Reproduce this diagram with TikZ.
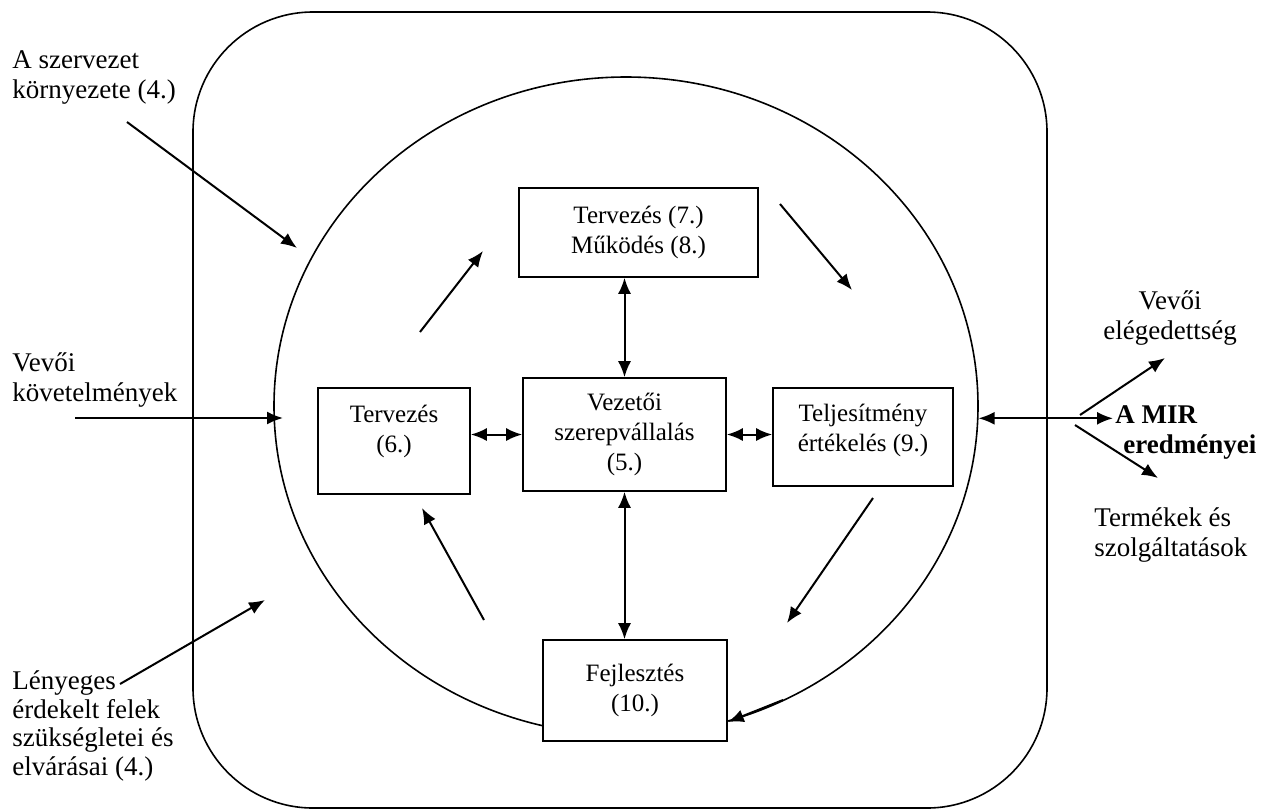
\documentclass[tikz,border=0pt]{standalone}
\usepackage{fontspec}
\setmainfont{Liberation Serif}
\usetikzlibrary{arrows.meta,shapes.geometric}

\begin{document}
\begin{tikzpicture}[x=0.5pt ,y=-0.5pt ,font=\fontsize{13.5}{15}\selectfont ,
box/.style ={draw ,line width=0.8pt ,align=center ,inner sep=2pt ,font=\fontsize{12.5}{15}\selectfont },
txt/.style ={align=left ,inner sep=1pt },
arr/.style ={line width=1pt ,-{Latex[length=8pt,width=6.5pt]} },
dbl/.style ={line width=1pt ,{Latex[length=8pt,width=6.5pt]}-{Latex[length=8pt,width=6.5pt]} }]
\useasboundingbox (0,0) rectangle (1274,810);
% frame and circle
\draw[line width=0.8pt ,rounded corners=60pt] (193,12) rectangle (1047,808);
\node[draw ,ellipse ,line width=0.8pt ,minimum width=352pt ,minimum height=329pt ,inner sep=0pt] (kor) at (626,406) {};

% boxes
\node[box ,fill=white ,minimum width=119.5pt ,minimum height=44.5pt] (plan) at (638.5,232.5) {Tervezés (7.)\\Működés (8.)};
\node[box ,minimum width=76pt ,minimum height=53pt] (ter) at (394,441) {Tervezés\\(6.)\\[-3pt]\mbox{}};
\node[box ,minimum width=101.5pt ,minimum height=56.5pt] (vez) at (624.5,434.5) {Vezetői\\szerepvállalás\\(5.)};
\node[box ,minimum width=90pt ,minimum height=49pt] (tel) at (863,437) {Teljesítmény\\értékelés (9.)\\[-6pt]\mbox{}};
\node[box ,fill=white ,minimum width=92pt ,minimum height=50.5pt] (fej) at (635,690.5) {Fejlesztés\\(10.)};

% links to the leadership box
\draw[dbl] (vez.north) -- (vez.north |- plan.south);
\draw[dbl] (vez.south) -- (vez.south |- fej.north);
\draw[dbl] (vez.west) -- (vez.west -| ter.east);
\draw[dbl] (vez.east) -- (vez.east -| tel.west);

% the cycle
\coordinate (c1) at (420,332);
\coordinate (c2) at (483,251);
\coordinate (c3) at (780,204);
\coordinate (c4) at (852,290);
\coordinate (c5) at (873,498);
\coordinate (c6) at (787,623);
\coordinate (c7) at (484,620);
\coordinate (c8) at (422,508);
\coordinate (c9) at (783,700);
\draw[arr] (c1) -- (c2);
\draw[arr] (c3) -- (c4);
\draw[arr] (c5) -- (c6);
\draw[arr] (c7) -- (c8);
\draw[arr] (c9) -- (fej.east |- 0,722);

% inputs
\node[txt ,anchor=west] (korny) at (10,77) {A szervezet\\környezete (4.)};
\node[txt ,anchor=west] (vevok) at (10,380) {Vevői\\követelmények};
\node[txt ,anchor=west ,font=\fontsize{13.5}{14.2}\selectfont] (felek) at (10,726) {Lényeges\\érdekelt felek\\szükségletei és\\elvárásai (4.)};
\coordinate (k1) at (127,122);
\coordinate (k2) at (297,248);
\coordinate (v1) at (75,418);
\coordinate (v2) at (283,418);
\coordinate (f1) at (120,684);
\coordinate (f2) at (265,600);
\draw[arr] (k1) -- (k2);
\draw[arr] (v1) -- (v2);
\draw[arr] (f1) -- (f2);

% outputs
\node[txt ,anchor=west ,font=\fontsize{13.5}{15}\selectfont\bfseries] (mir) at (1113,432) {A MIR\\\hspace{4pt}eredményei};
\node[txt ,align=center] (eleg) at (1170,318) {Vevői\\elégedettség};
\node[txt ,anchor=west] (term) at (1092,535) {Termékek és\\szolgáltatások};
\coordinate (h1) at (1080,415);
\coordinate (h2) at (1165,358);
\coordinate (h3) at (1075,425);
\coordinate (h4) at (1158,478);
\draw[dbl] (kor.-2.5) -- (kor.-2.5 -| mir.west);
\draw[arr] (h1) -- (h2);
\draw[arr] (h3) -- (h4);
\end{tikzpicture}
\end{document}
